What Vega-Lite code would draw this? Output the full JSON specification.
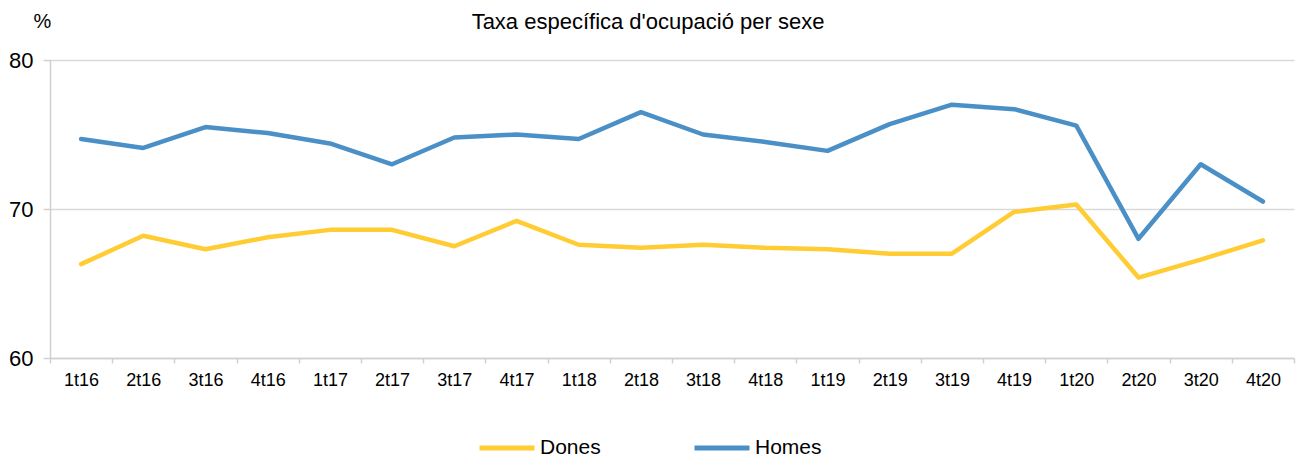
{
  "$schema": "https://vega.github.io/schema/vega-lite/v6.json",
  "autosize": "none",
  "width": 1244,
  "height": 298,
  "padding": {"left": 50, "top": 60, "right": 6, "bottom": 101},
  "background": "white",
  "config": {
    "font": "Liberation Sans",
    "view": {"stroke": null}
  },
  "title": {
    "text": "Taxa específica d'ocupació per sexe",
    "fontSize": 22,
    "fontWeight": "normal",
    "color": "#000000",
    "anchor": "middle",
    "dx": -24,
    "offset": -23
  },
  "data": {
    "values": [
      {"t": "1t16", "s": "Dones", "v": 66.3}, {"t": "1t16", "s": "Homes", "v": 74.7},
      {"t": "2t16", "s": "Dones", "v": 68.2}, {"t": "2t16", "s": "Homes", "v": 74.1},
      {"t": "3t16", "s": "Dones", "v": 67.3}, {"t": "3t16", "s": "Homes", "v": 75.5},
      {"t": "4t16", "s": "Dones", "v": 68.1}, {"t": "4t16", "s": "Homes", "v": 75.1},
      {"t": "1t17", "s": "Dones", "v": 68.6}, {"t": "1t17", "s": "Homes", "v": 74.4},
      {"t": "2t17", "s": "Dones", "v": 68.6}, {"t": "2t17", "s": "Homes", "v": 73.0},
      {"t": "3t17", "s": "Dones", "v": 67.5}, {"t": "3t17", "s": "Homes", "v": 74.8},
      {"t": "4t17", "s": "Dones", "v": 69.2}, {"t": "4t17", "s": "Homes", "v": 75.0},
      {"t": "1t18", "s": "Dones", "v": 67.6}, {"t": "1t18", "s": "Homes", "v": 74.7},
      {"t": "2t18", "s": "Dones", "v": 67.4}, {"t": "2t18", "s": "Homes", "v": 76.5},
      {"t": "3t18", "s": "Dones", "v": 67.6}, {"t": "3t18", "s": "Homes", "v": 75.0},
      {"t": "4t18", "s": "Dones", "v": 67.4}, {"t": "4t18", "s": "Homes", "v": 74.5},
      {"t": "1t19", "s": "Dones", "v": 67.3}, {"t": "1t19", "s": "Homes", "v": 73.9},
      {"t": "2t19", "s": "Dones", "v": 67.0}, {"t": "2t19", "s": "Homes", "v": 75.7},
      {"t": "3t19", "s": "Dones", "v": 67.0}, {"t": "3t19", "s": "Homes", "v": 77.0},
      {"t": "4t19", "s": "Dones", "v": 69.8}, {"t": "4t19", "s": "Homes", "v": 76.7},
      {"t": "1t20", "s": "Dones", "v": 70.3}, {"t": "1t20", "s": "Homes", "v": 75.6},
      {"t": "2t20", "s": "Dones", "v": 65.4}, {"t": "2t20", "s": "Homes", "v": 68.0},
      {"t": "3t20", "s": "Dones", "v": 66.6}, {"t": "3t20", "s": "Homes", "v": 73.0},
      {"t": "4t20", "s": "Dones", "v": 67.9}, {"t": "4t20", "s": "Homes", "v": 70.5}
    ]
  },
  "mark": {"type": "line", "strokeWidth": 4.5, "strokeCap": "round", "strokeJoin": "round"},
  "encoding": {
    "x": {
      "field": "t",
      "type": "ordinal",
      "sort": null,
      "scale": {"type": "band", "paddingInner": 0, "paddingOuter": 0},
      "axis": {
        "title": null,
        "labelAngle": 0,
        "labelFontSize": 18,
        "labelColor": "#000000",
        "labelPadding": 8,
        "domainColor": "#D0D0D0",
        "domainWidth": 1.5,
        "tickColor": "#D0D0D0",
        "tickWidth": 1.5,
        "tickSize": 5,
        "tickBand": "extent",
        "grid": false
      }
    },
    "y": {
      "field": "v",
      "type": "quantitative",
      "scale": {"domain": [60, 80], "nice": false, "zero": false},
      "axis": {
        "values": [60, 70, 80],
        "title": "%",
        "titleAngle": 0,
        "titleFontSize": 20,
        "titleFontWeight": "normal",
        "titleColor": "#000000",
        "titleX": -8,
        "titleY": -39,
        "titleAlign": "center",
        "titleBaseline": "middle",
        "labelFontSize": 22,
        "labelColor": "#000000",
        "labelPadding": 10,
        "domainColor": "#D0D0D0",
        "domainWidth": 1.5,
        "tickColor": "#D0D0D0",
        "tickWidth": 1.5,
        "tickSize": 7,
        "grid": true,
        "gridColor": "#D9D9D9",
        "gridWidth": 1.5
      }
    },
    "color": {
      "field": "s",
      "type": "nominal",
      "scale": {"domain": ["Dones", "Homes"], "range": ["#FFCC33", "#4A90C6"]},
      "legend": {
        "title": null,
        "orient": "none",
        "direction": "horizontal",
        "legendX": 427,
        "legendY": 358,
        "symbolType": "stroke",
        "symbolSize": 3025,
        "symbolStrokeWidth": 5,
        "labelFontSize": 21,
        "labelColor": "#000000",
        "labelOffset": 3,
        "columnPadding": 83
      }
    }
  }
}
